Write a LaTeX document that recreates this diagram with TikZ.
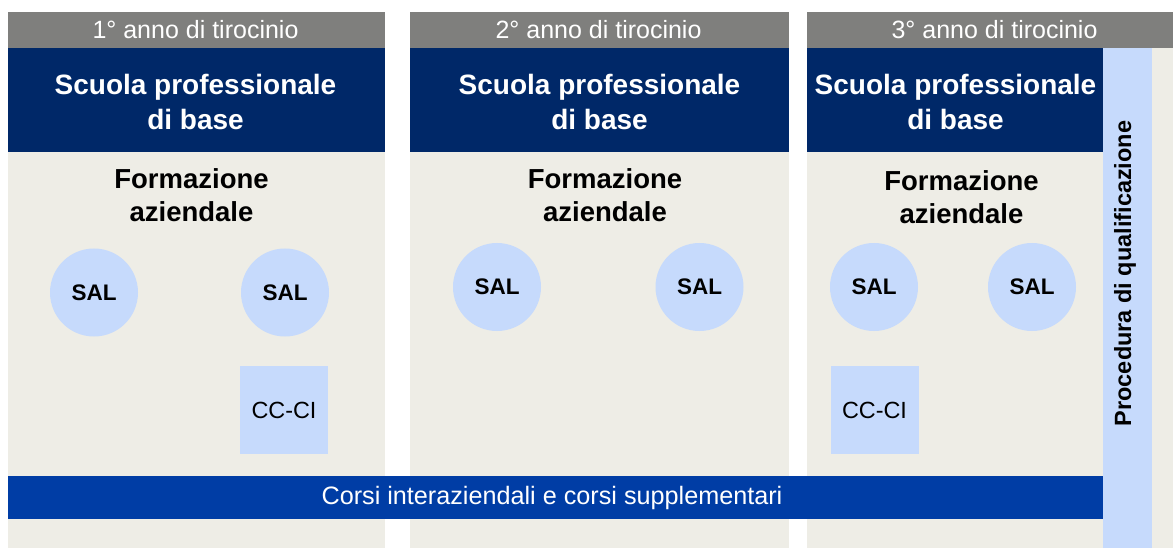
\documentclass[tikz,border=0pt]{standalone}
\usepackage{fontspec}
\setmainfont{Liberation Sans}
\definecolor{hdrgray}{RGB}{127,127,125}
\definecolor{darkblue}{RGB}{0,40,104}
\definecolor{beige}{RGB}{238,237,230}
\definecolor{lightblue}{RGB}{198,218,252}
\definecolor{bandblue}{RGB}{0,61,165}
\begin{document}
\begin{tikzpicture}[x=1pt,y=-1pt,
  hdrtext/.style={text=white,font=\fontsize{25}{28}\selectfont,inner sep=0pt},
  schooltext/.style={text=white,font=\bfseries\fontsize{28}{35}\selectfont,align=center,inner sep=0pt},
  formtext/.style={text=black,font=\bfseries\fontsize{27.5}{33}\selectfont,align=center,inner sep=0pt},
  salnode/.style={circle,fill=lightblue,minimum size=88pt,inner sep=0pt,font=\bfseries\fontsize{22.5}{26}\selectfont},
  ccnode/.style={rectangle,fill=lightblue,minimum size=88pt,inner sep=0pt,font=\fontsize{23.4}{26}\selectfont}]
\useasboundingbox (0,0) rectangle (1173,548);
\fill[white] (0,0) rectangle (1173,548);
% column backgrounds
\fill[beige] (8,48) rectangle (385,548);
\fill[beige] (410,48) rectangle (789,548);
\fill[beige] (807,48) rectangle (1173,548);
% headers
\fill[hdrgray] (8,12) rectangle (385,48);
\fill[hdrgray] (410,12) rectangle (789,48);
\fill[hdrgray] (807,12) rectangle (1173,48);
% dark blue school blocks
\fill[darkblue] (8,48) rectangle (385,152);
\fill[darkblue] (410,48) rectangle (789,152);
\fill[darkblue] (807,48) rectangle (1103,152);
% qualification bar
\fill[lightblue] (1103,48) rectangle (1152,548);
% bottom band
\fill[bandblue] (8,476) rectangle (1103,519);

\node[hdrtext] (h1) at (195.5,30) {1° anno di tirocinio};
\node[hdrtext] (h2) at (598.5,30) {2° anno di tirocinio};
\node[hdrtext] (h3) at (994.5,30) {3° anno di tirocinio};

\node[schooltext] (s1) at (195.5,101.5) {Scuola professionale\\di base};
\node[schooltext] (s2) at (599.5,101.5) {Scuola professionale\\di base};
\node[schooltext] (s3) at (955.5,101.5) {Scuola professionale\\di base};

\node[formtext] (f1) at (191.5,195) {Formazione\\aziendale};
\node[formtext] (f2) at (605,195) {Formazione\\aziendale};
\node[formtext] (f3) at (961.5,197) {Formazione\\aziendale};

\node[salnode] (a1) at (94,292.5) {SAL};
\node[salnode] (a2) at (285,292.5) {SAL};
\node[salnode] (b1) at (497,287) {SAL};
\node[salnode] (b2) at (699.5,287) {SAL};
\node[salnode] (c1) at (874,287) {SAL};
\node[salnode] (c2) at (1032,287) {SAL};

\node[ccnode] (cc1) at (284,410) {CC-CI};
\node[ccnode] (cc3) at (874.5,410) {CC-CI};

\node[text=white,font=\fontsize{25.2}{28}\selectfont,inner sep=0pt] (band) at (552,497.5) {Corsi interaziendali e corsi supplementari};

\node[rotate=90,font=\bfseries\fontsize{23.5}{28}\selectfont,inner sep=0pt] (proc) at (1125,273.5) {Procedura di qualificazione};
\end{tikzpicture}
\end{document}
